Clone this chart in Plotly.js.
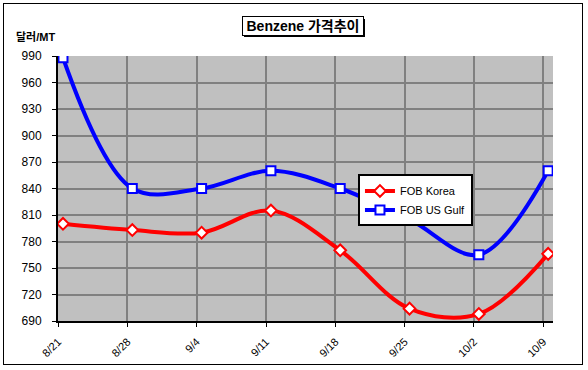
<!DOCTYPE html>
<html><head><meta charset="utf-8">
<script src="https://cdn.plot.ly/plotly-3.0.1.min.js"></script>
<style>
html,body{margin:0;padding:0;background:#fff;}
#wrap{position:relative;width:588px;height:370px;}
#chart{width:588px;height:370px;}
#frame{position:absolute;left:3px;top:3px;width:580px;height:362px;border:1px solid #000;pointer-events:none;box-sizing:border-box;}
</style>
</head><body>
<div id="wrap"><div id="chart"></div><div id="frame"></div></div>
<script>
var dates = ["8/21","8/28","9/4","9/11","9/18","9/25","10/2","10/9"];
var fobKorea = [800, 793, 790, 815, 770, 704, 698, 766];
var fobUSGulf = [988, 840, 840, 860, 840, 805, 765, 860];

var idx = dates.map(function(d,i){return i;});
var tickPos = idx.map(function(i){return i-0.07;});

var traces = [
  {x: idx, y: fobKorea, name: "FOB Korea", type: "scatter", mode: "lines+markers",
   line: {color: "#FF0000", width: 4, shape: "spline", smoothing: 1},
   marker: {symbol: "diamond", size: 9, color: "#FFFFFF", line: {color: "#FF0000", width: 2}}},
  {x: idx, y: fobUSGulf, name: "FOB US Gulf", type: "scatter", mode: "lines+markers",
   line: {color: "#0000FF", width: 4, shape: "spline", smoothing: 1},
   marker: {symbol: "square", size: 9, color: "#FFFFFF", line: {color: "#0000FF", width: 2}}}
];

var layout = {
  width: 588, height: 370,
  margin: {l: 58, r: 35, t: 56, b: 49},
  paper_bgcolor: "#FFFFFF",
  plot_bgcolor: "#C0C0C0",
  font: {family: "Liberation Sans, Arial, sans-serif", color: "#000", size: 12},
  showlegend: true,
  legend: {x: 0.606, y: 0.553, xanchor: "left", yanchor: "top",
    bgcolor: "#FFFFFF", bordercolor: "#000", borderwidth: 2,
    font: {size: 11, family: "Liberation Sans, Arial, sans-serif"},
    tracegroupgap: 0, itemwidth: 30},
  xaxis: {range: [-0.072, 7.07], tickvals: tickPos, ticktext: dates, tickangle: -45,
    showgrid: true, gridcolor: "#808080", gridwidth: 2,
    showline: true, linecolor: "#000", linewidth: 2,
    ticks: "outside", ticklen: 4, tickcolor: "#000", ticklabelstandoff: 4,
    tickfont: {size: 11, family: "Liberation Sans, Arial, sans-serif"},
    zeroline: false, fixedrange: true},
  yaxis: {range: [690, 990], dtick: 30, tick0: 690,
    showgrid: true, gridcolor: "#808080", gridwidth: 2,
    showline: true, linecolor: "#000", linewidth: 2,
    ticks: "outside", ticklen: 4, tickcolor: "#000", ticklabelstandoff: 8,
    tickfont: {size: 12, family: "Liberation Sans, Arial, sans-serif"},
    zeroline: false, fixedrange: true},
  shapes: [
    {type: "rect", xref: "paper", yref: "paper", layer: "above",
     x0: 0.3758, x1: 0.6202, y0: 1.0717, y1: 1.1396,
     fillcolor: "#000", line: {width: 0}}
  ],
  annotations: [
    {xref: "paper", yref: "paper", x: 0.494, y: 1.113, xanchor: "center", yanchor: "middle",
     text: "<b>Benzene 가격추이</b>", showarrow: false, bgcolor: "#FFF", bordercolor: "#000", borderwidth: 1,
     width: 118, height: 16,
     font: {size: 14, family: "Liberation Sans, Noto Sans CJK KR, sans-serif", color: "#000"}, borderpad: 1},
    {xref: "paper", yref: "paper", x: -0.089, y: 1.07, xanchor: "left", yanchor: "middle",
     text: "<b>달러/MT</b>", showarrow: false,
     font: {size: 11, family: "Liberation Sans, Noto Sans CJK KR, sans-serif", color: "#000"}}
  ]
};

Plotly.newPlot("chart", traces, layout, {displayModeBar: false, staticPlot: true});
</script>
</body></html>
